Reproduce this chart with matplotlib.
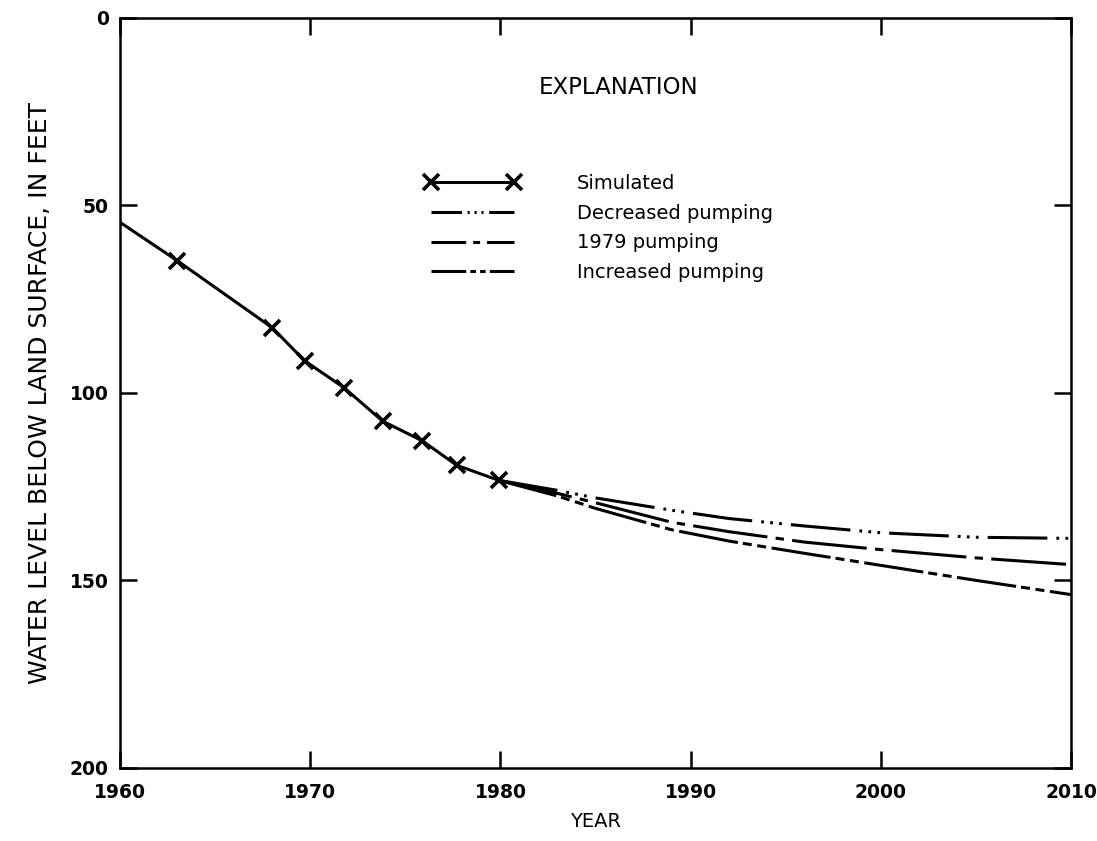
import matplotlib.pyplot as plt
from matplotlib.lines import Line2D

plt.rcParams['font.family'] = ['DejaVu Sans']
plt.rcParams['lines.scale_dashes'] = False

# simulated water levels (feet below land surface)
sim_years = [1960, 1963, 1968, 1969.7, 1971.8, 1973.8, 1975.9, 1977.7, 1979.9]
sim_level = [54.5, 64.7, 82.6, 91.4, 98.7, 107.5, 112.8, 119.3, 123.3]

# projections
proj_years = [1979.9, 1983, 1985, 1989, 1992, 1996, 2000, 2005, 2010]
decreased = [123.3, 126.0, 128.0, 131.3, 133.5, 135.5, 137.3, 138.5, 138.8]
pump_1979 = [123.3, 126.8, 129.3, 134.5, 137.0, 139.8, 141.8, 144.0, 145.8]
increased = [123.3, 127.5, 130.8, 136.5, 139.5, 142.8, 146.0, 150.0, 153.8]

labels = ['Simulated', 'Decreased pumping', '1979 pumping', 'Increased pumping']

x_ticks = [1960, 1970, 1980, 1990, 2000, 2010]
y_ticks = [0, 50, 100, 150, 200]

dec_style = (0, (43, 6.5, 2, 4.5, 2, 4.5, 2, 6.5))
p79_style = (0, (54, 6, 6, 6))
inc_style = (0, (43, 3.6, 6.5, 4, 6.5, 4))

fig = plt.figure(figsize=(10.97, 8.41), dpi=100)
ax = fig.add_axes([0.1094, 0.087, 0.867, 0.8916])

ax.plot(sim_years, sim_level, color='black', lw=2.2, marker='x', ms=11, mew=2.6,
        markevery=list(range(1, len(sim_years))))
ax.plot(proj_years, decreased, color='black', lw=2.2, linestyle=dec_style)
ax.plot(proj_years, pump_1979, color='black', lw=2.2, linestyle=p79_style)
ax.plot(proj_years, increased, color='black', lw=2.2, linestyle=inc_style)

ax.set_xlim(1960, 2010)
ax.set_ylim(200, 0)
ax.set_xticks(x_ticks)
ax.set_yticks(y_ticks)
ax.tick_params(direction='in', length=12, width=1.8, top=True, right=True,
               labelsize=13.5)
ax.tick_params(axis='x', pad=11)
ax.tick_params(axis='y', pad=8)
for lab in ax.get_xticklabels() + ax.get_yticklabels():
    lab.set_fontweight('bold')
for sp in ax.spines.values():
    sp.set_linewidth(1.8)

ax.set_xlabel('YEAR', fontsize=14, labelpad=7)
ax.set_ylabel('WATER LEVEL BELOW LAND SURFACE, IN FEET', fontsize=18, labelpad=13)

ax.text(0.524, 0.907, 'EXPLANATION', transform=ax.transAxes, fontsize=16.5,
        ha='center', va='center')

handles = [
    Line2D([0], [0], color='black', lw=2.2, marker='x', ms=11, mew=2.6),
    Line2D([0], [0], color='black', lw=2.2, linestyle=(0, (22, 4, 1.5, 3.5, 1.5, 3.5, 1.5, 4))),
    Line2D([0], [0], color='black', lw=2.2, linestyle=(0, (25, 5, 5, 5))),
    Line2D([0], [0], color='black', lw=2.2, linestyle=(0, (25, 3, 4, 3, 4, 3))),
]
ax.legend(handles, labels, loc='upper left', bbox_to_anchor=(0.3207, 0.792),
          frameon=False, fontsize=14, numpoints=2, handlelength=4.9,
          handletextpad=2.9, labelspacing=0.55, borderpad=0, borderaxespad=0)

fig.savefig('out.png', dpi=100)
